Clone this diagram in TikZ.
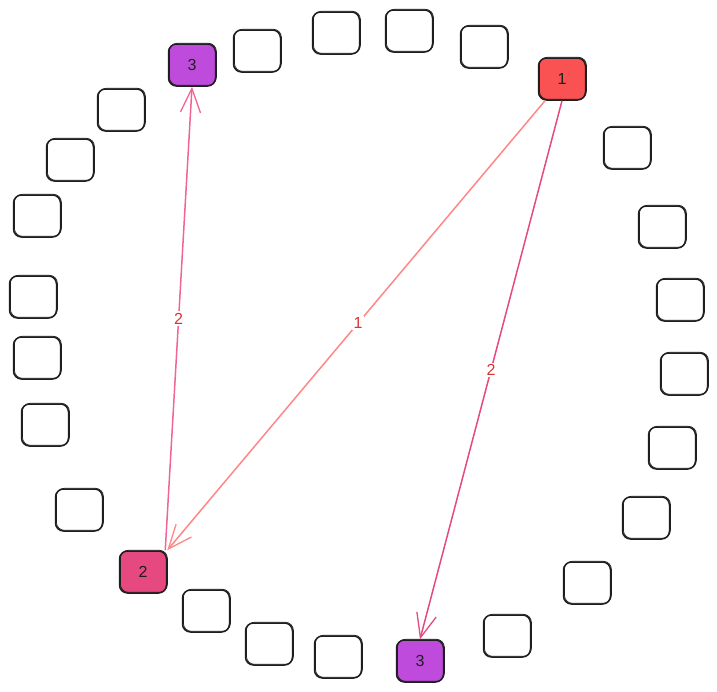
\documentclass[tikz,border=0pt]{standalone}
\usepackage{fontspec}
\setmainfont{Liberation Sans}
\usetikzlibrary{arrows.meta}
\definecolor{inkc}{HTML}{1E1E1E}
\definecolor{redfill}{HTML}{FA5252}
\definecolor{pinkfill}{HTML}{E64980}
\definecolor{grapefill}{HTML}{BE4BDB}
\definecolor{edgesalmon}{HTML}{FF8787}
\definecolor{edgepink}{HTML}{E64980}
\definecolor{edgepinklight}{HTML}{F06595}
\definecolor{labelred}{HTML}{E03131}
\tikzset{
  box/.style={draw=inkc, line width=1.5pt, rectangle, rounded corners=8pt,
    minimum width=47pt, minimum height=42pt, inner sep=0pt,
    font=\fontsize{16}{18}\selectfont, text=inkc,
    postaction={draw=inkc, line width=0.7pt, rounded corners=9pt,
      transform canvas={shift={(0.9pt,0.7pt)}}}},
  conn/.style={line width=1.5pt, -{Straight Barb[length=24pt,width=20pt,line width=1.3pt]}},
  elabel/.style={fill=white, inner sep=1.5pt, text=labelred, font=\fontsize{16}{18}\selectfont}
}
\begin{document}
\begin{tikzpicture}[x=1pt,y=-1pt]
\useasboundingbox (0,0) rectangle (717,691);
% nodes around the circle
\node[box, fill=grapefill] (n1) at (192,65) {3};
\node[box] (n2) at (257,51) {};
\node[box] (n3) at (336,33) {};
\node[box] (n4) at (409,31) {};
\node[box] (n5) at (484,47) {};
\node[box, fill=redfill] (n6) at (562,79) {1};
\node[box] (n7) at (627,148) {};
\node[box] (n8) at (662,227) {};
\node[box] (n9) at (680,300) {};
\node[box] (n10) at (684,374) {};
\node[box] (n11) at (672,448) {};
\node[box] (n12) at (646,518) {};
\node[box] (n13) at (587,583) {};
\node[box] (n14) at (507,636) {};
\node[box, fill=grapefill] (n15) at (420,661) {3};
\node[box] (n16) at (338,657) {};
\node[box] (n17) at (269,644) {};
\node[box] (n18) at (206,611) {};
\node[box, fill=pinkfill] (n19) at (143,572) {2};
\node[box] (n20) at (79,510) {};
\node[box] (n21) at (45,425) {};
\node[box] (n22) at (37,358) {};
\node[box] (n23) at (33,297) {};
\node[box] (n24) at (37,216) {};
\node[box] (n25) at (70,160) {};
\node[box] (n26) at (121,110) {};
% connectors
\draw[conn, edgesalmon] ([xshift=-17pt]n6.south) -- (n19.north east)
  node[elabel, pos=0.495] {1};
\draw[conn, edgepink] (n6.south) -- (n15.north)
  node[elabel, pos=0.5] {2};
\draw[conn, edgepinklight] ([xshift=-2pt]n19.north east) -- (n1.south)
  node[elabel, pos=0.5] {2};
\end{tikzpicture}
\end{document}
